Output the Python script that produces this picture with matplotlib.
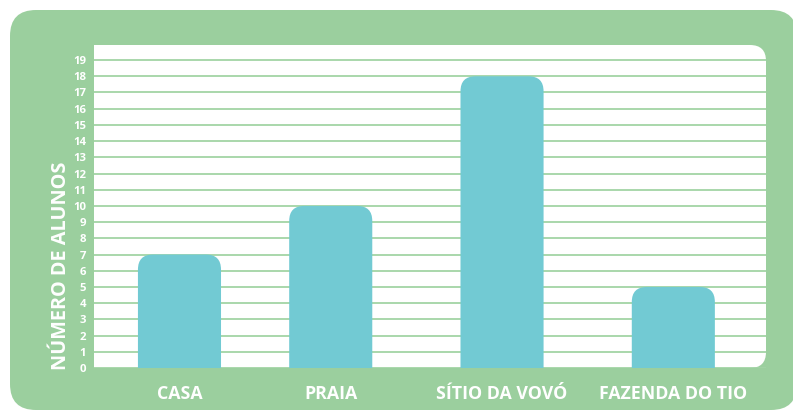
import matplotlib
matplotlib.use("Agg")
import matplotlib.pyplot as plt
from matplotlib.patches import FancyBboxPatch, Rectangle

plt.rcParams['font.family'] = ['Open Sans', 'DejaVu Sans']

# data
categories = ["CASA", "PRAIA", "SÍTIO DA VOVÓ", "FAZENDA DO TIO"]
alunos = [7, 10, 18, 5]
y_ticks = list(range(0, 20))
y_label = "NÚMERO DE ALUNOS"

# layout
slots = [0.117, 1.0, 2.0, 3.0]
bar_width = 0.485

W, H = 793, 411
panel_green = "#9bcf9e"
grid_green = "#a2d4a5"
bar_blue = "#72cad3"

fig = plt.figure(figsize=(W / 100, H / 100), dpi=100)
fig.patch.set_facecolor("white")


def px_box(x0, y0_top, x1, y1_top):
    """Convert a pixel box measured from the top-left into figure fractions."""
    return x0 / W, (H - y1_top) / H, (x1 - x0) / W, (y1_top - y0_top) / H


# outer green panel
gx, gy, gw, gh = 10, 10, 797, 410
outer = FancyBboxPatch((gx, H - gh), gw - gx, gh - gy,
                       boxstyle="round,pad=0,rounding_size=26",
                       transform=None, facecolor=panel_green, edgecolor="none",
                       zorder=-3)
fig.patches.append(outer)

# white plotting area (rounded on the right side only)
ax_l, ax_t, ax_r, ax_b = 94, 45, 766, 368
white_round = FancyBboxPatch((ax_l, H - ax_b), ax_r - ax_l, ax_b - ax_t,
                             boxstyle="round,pad=0,rounding_size=16",
                             transform=None, facecolor="white", edgecolor="none",
                             zorder=-2)
white_square = Rectangle((ax_l, H - ax_b), 100, ax_b - ax_t, transform=None,
                         facecolor="white", edgecolor="none", zorder=-2)
fig.patches.extend([white_round, white_square])

ax = fig.add_axes(px_box(ax_l, ax_t, ax_r, ax_b))
ax.patch.set_visible(False)
for s in ax.spines.values():
    s.set_visible(False)

ymax = 19.93
xmin, xmax = -0.382, 3.541
ax.set_xlim(xmin, xmax)
ax.set_ylim(0, ymax)

# horizontal grid
for v in y_ticks:
    ax.axhline(v, color=grid_green, lw=1.3, zorder=1)

# bars with rounded top corners
px_per_x = (ax_r - ax_l) / (xmax - xmin)
px_per_y = (ax_b - ax_t) / ymax
radius_px = 15
aspect = px_per_x / px_per_y
bars = ax.bar(slots, alunos, width=bar_width, color="none", zorder=2)
for b in bars:
    x0 = b.get_x()
    h = b.get_height()
    ext = 2.0
    p = FancyBboxPatch((x0, -ext), b.get_width(), h + ext,
                       boxstyle=f"round,pad=0,rounding_size={radius_px / px_per_x}",
                       mutation_aspect=aspect,
                       facecolor=bar_blue, edgecolor="none", zorder=3)
    ax.add_patch(p)

ax.set_yticks(y_ticks)
ax.set_yticklabels([str(v) for v in y_ticks], color="white",
                   fontsize=8.2, fontweight="bold")
ax.set_xticks(slots)
ax.set_xticklabels(categories, color="white", fontsize=12.8, fontweight="bold")
ax.tick_params(axis="y", length=0, pad=5.8)
ax.tick_params(axis="x", length=0, pad=12.5)

fig.text(61 / W, (H - 266) / H, y_label, rotation=90, ha="center", va="center",
         color="white", fontsize=14.3, fontweight="bold")

fig.savefig("out.png", dpi=100, facecolor="white")
